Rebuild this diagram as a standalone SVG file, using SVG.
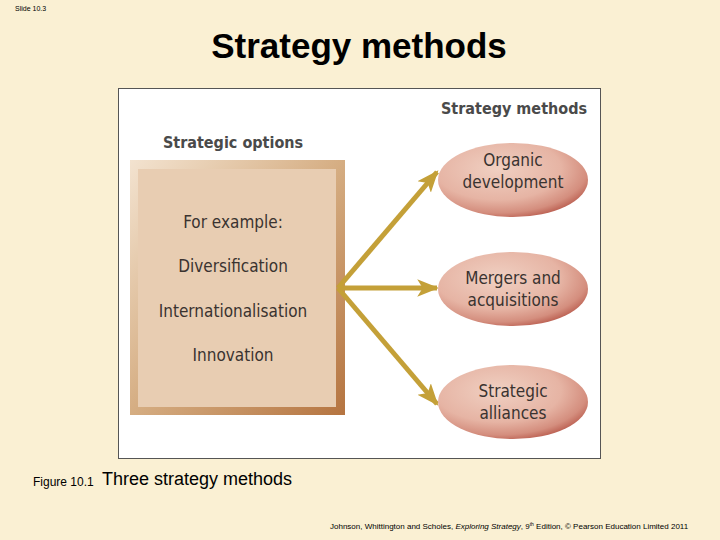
<svg xmlns="http://www.w3.org/2000/svg" width="720" height="540" viewBox="0 0 720 540">
<style>
.t{font-family:"Liberation Sans",Arial,sans-serif;fill:#000}
.d{font-family:"DejaVu Sans Condensed","Liberation Sans",sans-serif;fill:#3a3330;text-anchor:middle}
.h{font-weight:bold;fill:#4a4a4a}
.c{stroke:#C4A038;stroke-width:5;fill:none}
</style>
<defs>
<linearGradient id="bord" x1="0" y1="0" x2="1" y2="1">
<stop offset="0" stop-color="#F3E3D0"/>
<stop offset="0.5" stop-color="#D5AD82"/>
<stop offset="1" stop-color="#B57440"/>
</linearGradient>
<radialGradient id="ell" cx="0.4" cy="0.35" r="0.7">
<stop offset="0" stop-color="#F0D0C2"/>
<stop offset="0.6" stop-color="#E6B4A4"/>
<stop offset="0.85" stop-color="#D48E7E"/>
<stop offset="1" stop-color="#B85A4C"/>
</radialGradient>
<marker id="ah" viewBox="0 0 10 10" refX="9" refY="5" markerWidth="4.4" markerHeight="4.4" orient="auto" markerUnits="strokeWidth">
<path d="M0,1 L10,5 L0,9 L2.5,5 z" fill="#C4A038"/>
</marker>
</defs>
<rect width="720" height="540" fill="#FAF0D3"/>
<text class="t" x="15" y="11" font-size="7">Slide 10.3</text>
<text class="t" x="359" y="58" font-size="35" font-weight="bold" text-anchor="middle">Strategy methods</text>
<rect x="118.5" y="88.5" width="482" height="370" fill="#FFFFFF" stroke="#555" stroke-width="1"/>
<text class="d h" x="514" y="114" font-size="16">Strategy methods</text>
<g id="options">
<text class="d h" x="233" y="148" font-size="16">Strategic options</text>
<rect x="130" y="160" width="215" height="255" fill="url(#bord)"/>
<rect x="138" y="169" width="198" height="238" fill="#E8CDB2"/>
<text class="d" x="233" y="228" font-size="17">For example:</text>
<text class="d" x="233" y="272" font-size="17">Diversification</text>
<text class="d" x="233" y="317" font-size="17">Internationalisation</text>
<text class="d" x="233" y="361" font-size="17">Innovation</text>
</g>
<g id="connectors">
<line class="c" x1="338" y1="288" x2="437" y2="172" marker-end="url(#ah)"/>
<line class="c" x1="338" y1="288" x2="437" y2="288" marker-end="url(#ah)"/>
<line class="c" x1="338" y1="288" x2="437" y2="404" marker-end="url(#ah)"/>
</g>
<g id="organic">
<ellipse cx="513" cy="180" rx="75" ry="37" fill="url(#ell)"/>
<text class="d" x="513" y="166" font-size="17">Organic</text>
<text class="d" x="513" y="188" font-size="17">development</text>
</g>
<g id="mergers">
<ellipse cx="513" cy="289" rx="75" ry="37" fill="url(#ell)"/>
<text class="d" x="513" y="284" font-size="17">Mergers and</text>
<text class="d" x="513" y="306" font-size="17">acquisitions</text>
</g>
<g id="alliances">
<ellipse cx="513" cy="402" rx="75" ry="37" fill="url(#ell)"/>
<text class="d" x="513" y="397" font-size="17">Strategic</text>
<text class="d" x="513" y="419" font-size="17">alliances</text>
</g>
<text class="t" x="33" y="486" font-size="12">Figure 10.1</text>
<text class="t" x="102" y="485" font-size="18">Three strategy methods</text>
<text class="t" x="330" y="529" font-size="8">Johnson, Whittington and Scholes, <tspan font-style="italic">Exploring Strategy</tspan>, 9<tspan font-size="5" dy="-3">th</tspan><tspan dy="3"> Edition, © Pearson Education Limited 2011</tspan></text>
</svg>
